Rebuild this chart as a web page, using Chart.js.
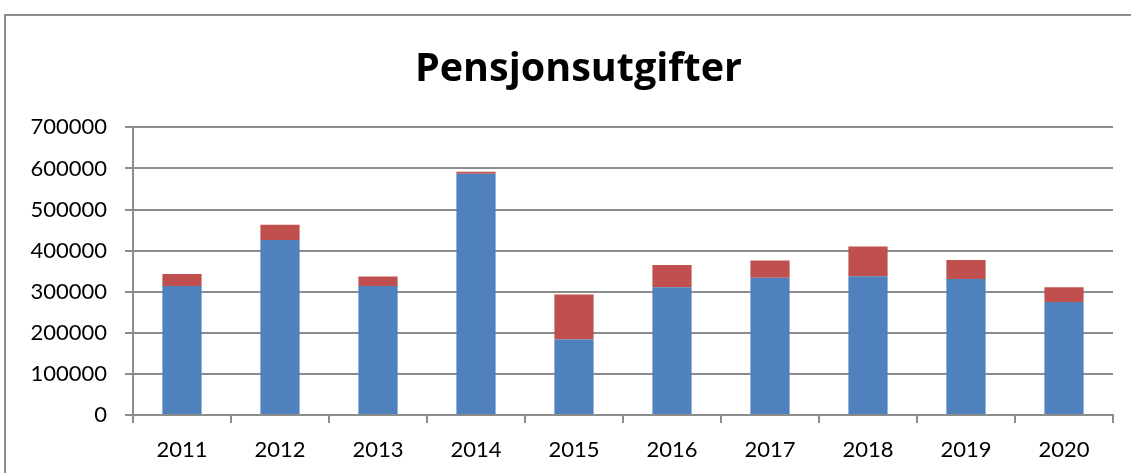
<!DOCTYPE html>
<html>
<head>
<meta charset="utf-8">
<script src="https://cdn.jsdelivr.net/npm/chart.js@4.4.1/dist/chart.umd.min.js"></script>
<style>
    html, body { margin: 0; padding: 0; background: #fff; }
    #wrap { position: relative; width: 1131px; height: 473px; overflow: hidden; }
    #frame {
        position: absolute; left: 4px; top: 14px; width: 1200px; height: 500px;
        border: 2px solid #8c8c8c; pointer-events: none;
    }
    canvas { position: absolute; left: 0; top: 0; }
</style>
</head>
<body>
<div id="wrap">
    <canvas id="pension" width="1131" height="473"></canvas>
    <div id="frame"></div>
</div>
<script>
    "use strict";

    // Data
    var years = ["2011", "2012", "2013", "2014", "2015", "2016", "2017", "2018", "2019", "2020"];
    var basePart = [314000, 426000, 314000, 587000, 184000, 311000, 334000, 338000, 331000, 275000];
    var extraPart = [29000, 37000, 23000, 5000, 109000, 54000, 42000, 72000, 46000, 36000];
    var yTicks = [0, 100000, 200000, 300000, 400000, 500000, 600000, 700000];

    var gridGray = "#8c8c8c";
    var fontFamily = "Lato, 'Open Sans', sans-serif";

    // Title in the original sits over the plot area, not the whole canvas
    var shiftTitle = {
        id: "shiftTitle",
        afterLayout: function (chart) {
            if (chart.titleBlock) {
                chart.titleBlock.left = 44;
            }
        }
    };

    var ctx = document.getElementById("pension").getContext("2d");
    var chart = new Chart(ctx, {
        type: "bar",
        data: {
            labels: years,
            datasets: [{
                    label: "Serie 1",
                    data: basePart,
                    backgroundColor: "#4F81BD"
                },
                {
                    label: "Serie 2",
                    data: extraPart,
                    backgroundColor: "#C0504D"
                }
            ]
        },
        options: {
            responsive: false,
            animation: false,
            devicePixelRatio: 1,
            layout: {
                padding: { left: 0, right: 18, top: 0, bottom: 0 }
            },
            datasets: {
                bar: { barPercentage: 1, categoryPercentage: 0.4 }
            },
            plugins: {
                legend: { display: false },
                tooltip: { enabled: false },
                title: {
                    display: true,
                    text: "Pensjonsutgifter",
                    color: "#000",
                    font: { family: "'Open Sans', Lato, sans-serif", size: 39.5, weight: "bold", lineHeight: 1.2 },
                    padding: { top: 46, bottom: 34 }
                }
            },
            scales: {
                x: {
                    stacked: true,
                    afterFit: function (scale) { scale.height = 58; },
                    grid: {
                        offset: true,
                        drawOnChartArea: false,
                        drawTicks: true,
                        tickLength: 8,
                        color: gridGray,
                        lineWidth: 2
                    },
                    border: { display: true, color: gridGray, width: 2 },
                    ticks: {
                        color: "#000",
                        padding: 14,
                        font: { family: fontFamily, size: 22 }
                    }
                },
                y: {
                    stacked: true,
                    min: 0,
                    max: 700000,
                    afterFit: function (scale) { scale.width = 133; },
                    afterBuildTicks: function (scale) {
                        scale.ticks = yTicks.map(function (v) { return { value: v }; });
                    },
                    grid: {
                        color: gridGray,
                        lineWidth: 2,
                        tickLength: 8
                    },
                    border: { display: true, color: gridGray, width: 2 },
                    ticks: {
                        color: "#000",
                        padding: 18,
                        font: { family: fontFamily, size: 22 },
                        callback: function (value) { return String(value); }
                    }
                }
            }
        },
        plugins: [shiftTitle]
    });
</script>
</body>
</html>
